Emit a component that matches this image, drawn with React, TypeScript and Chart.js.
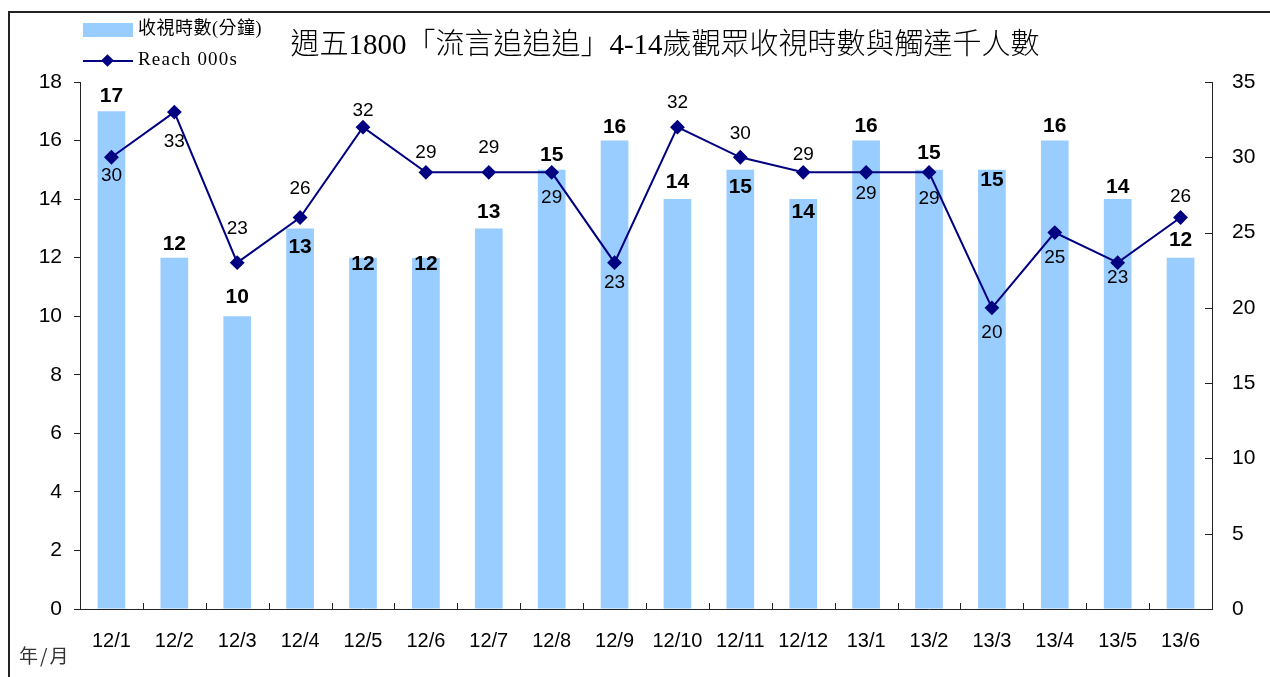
import React, { useEffect, useRef } from "react";
import { Chart, registerables } from "chart.js";

Chart.register(...registerables);

const categories = ["12/1", "12/2", "12/3", "12/4", "12/5", "12/6", "12/7", "12/8", "12/9", "12/10", "12/11", "12/12", "13/1", "13/2", "13/3", "13/4", "13/5", "13/6"];
const viewingMinutes = [17, 12, 10, 13, 12, 12, 13, 15, 16, 14, 15, 14, 16, 15, 15, 16, 14, 12];
const reach000s = [30, 33, 23, 26, 32, 29, 29, 29, 23, 32, 30, 29, 29, 29, 20, 25, 23, 26];
const leftAxisMax = 18;
const leftAxisStep = 2;
const rightAxisMax = 35;
const rightAxisStep = 5;

// label placement offsets (px, relative to bar top / point centre)
const barLabelOffsets = [-15, -13, -19, 19, 7, 7, -16, -15, -13, -17, 17, 13, -14, -17, 10, -14, -12, -17];
const lineLabelOffsets = [18, 30, -34, -29, -16, -20, -25, 25, 20, -24, -24, -18, 21, 26, 25, 25, 15, -21];

const TITLE = "週五1800「流言追追追」4-14歲觀眾收視時數與觸達千人數";
const BAR_NAME = "收視時數(分鐘)";
const LINE_NAME = "Reach 000s";
const BAR_COLOR = "#99CCFF";
const LINE_COLOR = "#000080";
const AXIS_COLOR = "#222222";
const SANS = "'Liberation Sans', Arial, sans-serif";

const labelPlugin = {
  id: "customLabels",
  afterDatasetsDraw(chart: any) {
    const ctx = chart.ctx;
    ctx.save();
    ctx.textAlign = "center";
    ctx.textBaseline = "middle";
    ctx.fillStyle = "#000";
    const barMeta = chart.getDatasetMeta(0);
    ctx.font = `bold 21px ${SANS}`;
    barMeta.data.forEach((el: any, i: number) => {
      ctx.fillText(String(viewingMinutes[i]), el.x, el.y + barLabelOffsets[i]);
    });
    const lineMeta = chart.getDatasetMeta(1);
    ctx.font = `19px ${SANS}`;
    lineMeta.data.forEach((el: any, i: number) => {
      ctx.fillText(String(reach000s[i]), el.x, el.y + lineLabelOffsets[i]);
    });
    ctx.restore();
  },
  afterDraw(chart: any) {
    const ctx = chart.ctx;
    const area = chart.chartArea;
    ctx.save();
    ctx.strokeStyle = AXIS_COLOR;
    ctx.lineWidth = 1;
    const n = categories.length;
    const w = (area.right - area.left) / n;
    for (let i = 0; i <= n; i++) {
      const x = Math.round(area.left + i * w) + 0.5;
      ctx.beginPath();
      ctx.moveTo(x, area.bottom);
      ctx.lineTo(x, area.bottom - 6);
      ctx.stroke();
    }
    const yR = chart.scales.y1;
    for (let v = 0; v <= rightAxisMax; v += rightAxisStep) {
      const y = Math.round(yR.getPixelForValue(v)) + 0.5;
      ctx.beginPath();
      ctx.moveTo(area.right - 7, y);
      ctx.lineTo(area.right, y);
      ctx.stroke();
    }
    ctx.restore();
  },
};

export default function App() {
  const canvasRef = useRef<HTMLCanvasElement | null>(null);

  useEffect(() => {
    if (!canvasRef.current) return;
    const chart = new Chart(canvasRef.current, {
      type: "bar",
      data: {
        labels: categories,
        datasets: [
          {
            type: "bar",
            label: BAR_NAME,
            data: viewingMinutes,
            backgroundColor: BAR_COLOR,
            borderWidth: 0,
            barPercentage: 0.44,
            categoryPercentage: 1,
            yAxisID: "y",
            order: 2,
          },
          {
            type: "line",
            label: LINE_NAME,
            data: reach000s,
            borderColor: LINE_COLOR,
            backgroundColor: LINE_COLOR,
            borderWidth: 2,
            pointStyle: "rectRot",
            pointRadius: 6,
            pointBackgroundColor: LINE_COLOR,
            pointBorderColor: LINE_COLOR,
            tension: 0,
            yAxisID: "y1",
            order: 1,
          } as any,
        ],
      },
      options: {
        animation: false,
        responsive: true,
        maintainAspectRatio: false,
        layout: { padding: { top: 82, left: 0, right: 0, bottom: 0 } },
        plugins: {
          legend: { display: false },
          title: { display: false },
          tooltip: { enabled: false },
        },
        scales: {
          x: {
            type: "category",
            offset: true,
            grid: { display: true, drawOnChartArea: false, drawTicks: false, color: AXIS_COLOR },
            border: { display: true, color: AXIS_COLOR, width: 1 },
            ticks: { color: "#000", font: { family: SANS, size: 20 }, padding: 20, maxRotation: 0, autoSkip: false },
            afterFit: (s: any) => { s.height = 68; },
          },
          y: {
            position: "left",
            min: 0,
            max: leftAxisMax,
            grid: { display: true, drawOnChartArea: false, drawTicks: true, tickLength: 6, color: AXIS_COLOR },
            border: { display: true, color: AXIS_COLOR, width: 1 },
            ticks: { stepSize: leftAxisStep, color: "#000", font: { family: SANS, size: 21 }, padding: 12 },
            afterFit: (s: any) => { s.width = 80; },
          },
          y1: {
            position: "right",
            min: 0,
            max: rightAxisMax,
            grid: { display: true, drawOnChartArea: false, drawTicks: false, color: AXIS_COLOR },
            border: { display: true, color: AXIS_COLOR, width: 1 },
            ticks: { stepSize: rightAxisStep, color: "#000", font: { family: SANS, size: 21 }, padding: 20 },
            afterFit: (s: any) => { s.width = 58; },
          },
        },
      },
      plugins: [labelPlugin],
    });
    return () => chart.destroy();
  }, []);

  return (
    <div style={{ position: "absolute", left: 0, top: 0, width: 1270, height: 677, overflow: "hidden", background: "#fff" }}>
      <div style={{ position: "absolute", left: 8, top: 11, width: 1400, height: 800, borderTop: "2px solid #222", borderLeft: "2px solid #222" }} />
      <div style={{ position: "absolute", left: 0, top: 0, width: 1270, height: 677 }}>
        <canvas ref={canvasRef} />
      </div>
      <div
        style={{
          position: "absolute",
          left: 665,
          top: 26,
          transform: "translateX(-50%)",
          whiteSpace: "nowrap",
          fontFamily: "'Liberation Serif', 'Noto Sans CJK TC', serif",
          fontSize: 29,
          lineHeight: "36px",
          fontWeight: 300,
          color: "#000",
        }}
      >
        {TITLE}
      </div>
      <div style={{ position: "absolute", left: 83, top: 23, width: 50, height: 14, background: BAR_COLOR }} />
      <div style={{ position: "absolute", left: 138, top: 16, whiteSpace: "nowrap", fontFamily: "'Liberation Serif', 'Noto Sans CJK TC', serif", fontSize: 18, lineHeight: "24px", letterSpacing: 0.5, color: "#000" }}>
        {BAR_NAME}
      </div>
      <div style={{ position: "absolute", left: 83, top: 60, width: 50, height: 2, background: LINE_COLOR }} />
      <div style={{ position: "absolute", left: 103, top: 56, width: 9, height: 9, background: LINE_COLOR, transform: "rotate(45deg)" }} />
      <div style={{ position: "absolute", left: 138, top: 47, whiteSpace: "nowrap", fontFamily: "'Liberation Serif', serif", fontSize: 19, lineHeight: "24px", letterSpacing: 1.2, color: "#000" }}>
        {LINE_NAME}
      </div>
      <div style={{ position: "absolute", left: 19, top: 642, whiteSpace: "nowrap", fontFamily: "'Noto Sans CJK TC', sans-serif", fontSize: 19, lineHeight: "26px", letterSpacing: 2, color: "#333" }}>
        年/月
      </div>
    </div>
  );
}
